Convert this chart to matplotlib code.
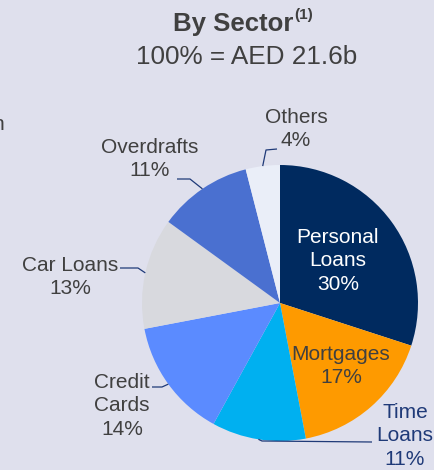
#!/usr/bin/env python3
# Loan book split by sector, drawn as a clockwise pie with leader-line labels.

import numpy as np
import matplotlib.pyplot as plt

# Sector shares (%), clockwise from 12 o'clock
sectors = ['Personal Loans', 'Mortgages', 'Time Loans', 'Credit Cards',
           'Car Loans', 'Overdrafts', 'Others']
shares = [30, 17, 11, 14, 13, 11, 4]
label_lines = ['Personal\nLoans', 'Mortgages', 'Time\nLoans', 'Credit\nCards',
               'Car Loans', 'Overdrafts', 'Others']
colors = ['#002a5f', '#fe9a00', '#00b0f0', '#5b8bff',
          '#d8d9de', '#4a70d0', '#eaeef8']

BG = '#dfe0ed'
GREY = '#404040'
NAVY = '#1f3a78'

W, H = 435, 470
cx, cy, R = 280, 303, 138  # pie centre and radius in pixel units (y down)


def Y(y):
    # pixel row (top-down) -> axis y (bottom-up)
    return H - y


fig = plt.figure(figsize=(W / 100, H / 100), dpi=100, facecolor=BG)
ax = fig.add_axes([0, 0, 1, 1])
ax.set_facecolor(BG)
plt.rcParams['font.family'] = ['Liberation Sans', 'DejaVu Sans']

wedges, _ = ax.pie(shares, colors=colors, startangle=90, counterclock=False,
                   center=(cx, Y(cy)), radius=R,
                   wedgeprops=dict(linewidth=0))
ax.set_xlim(0, W)
ax.set_ylim(0, H)
ax.set_aspect('equal')
ax.set_axis_off()

# mid-angle of each wedge, used to anchor leader lines on the rim
mids = {}
for name, w in zip(sectors, wedges):
    a = np.deg2rad((w.theta1 + w.theta2) / 2)
    mids[name] = (cx + R * np.cos(a), Y(cy) + R * np.sin(a))

# titles
ax.text(173, Y(24), 'By Sector', ha='left', va='center', fontsize=18.5,
        fontweight='bold', color=GREY)
ax.text(294, Y(15), '(1)', ha='left', va='center', fontsize=11,
        fontweight='bold', color=GREY)
ax.text(247, Y(57), '100% = AED 21.6b', ha='center', va='center',
        fontsize=18.8, color=GREY)
ax.text(4, Y(125), 'n', ha='right', va='center', fontsize=15, color=GREY)

fs = 15
ls = 1.32
# labels inside the pie
ax.text(338, Y(261), f'{label_lines[0]}\n{shares[0]}%', ha='center', va='center',
        fontsize=fs, color='white', linespacing=ls)
ax.text(341, Y(366), f'{label_lines[1]}\n{shares[1]}%', ha='center', va='center',
        fontsize=fs, color=GREY, linespacing=ls)

# outside labels: text centre, elbow points of the leader line
outside = {
    'Others':       ((296, 129), [(266, 150), (277, 149)], GREY),
    'Overdrafts':   ((150, 159), [(190, 179), (177, 179)], GREY),
    'Car Loans':    ((70, 277),  [(138, 268), (120, 268)], GREY),
    'Credit Cards': ((122, 406), [(162, 387), (152, 387)], GREY),
    'Time Loans':   ((405, 436), [(262, 441), (372, 442)], NAVY),
}
for i, name in enumerate(sectors):
    if name not in outside:
        continue
    (tx, ty), elbow, col = outside[name]
    ax.text(tx, Y(ty), f'{label_lines[i]}\n{shares[i]}%', ha='center', va='center',
            fontsize=fs, color=col, linespacing=ls)
    xs = [mids[name][0]] + [p[0] for p in elbow]
    ys = [mids[name][1]] + [Y(p[1]) for p in elbow]
    ax.plot(xs, ys, color=NAVY, lw=0.9, solid_capstyle='butt')

fig.savefig('out.png', dpi=100, facecolor=BG)
